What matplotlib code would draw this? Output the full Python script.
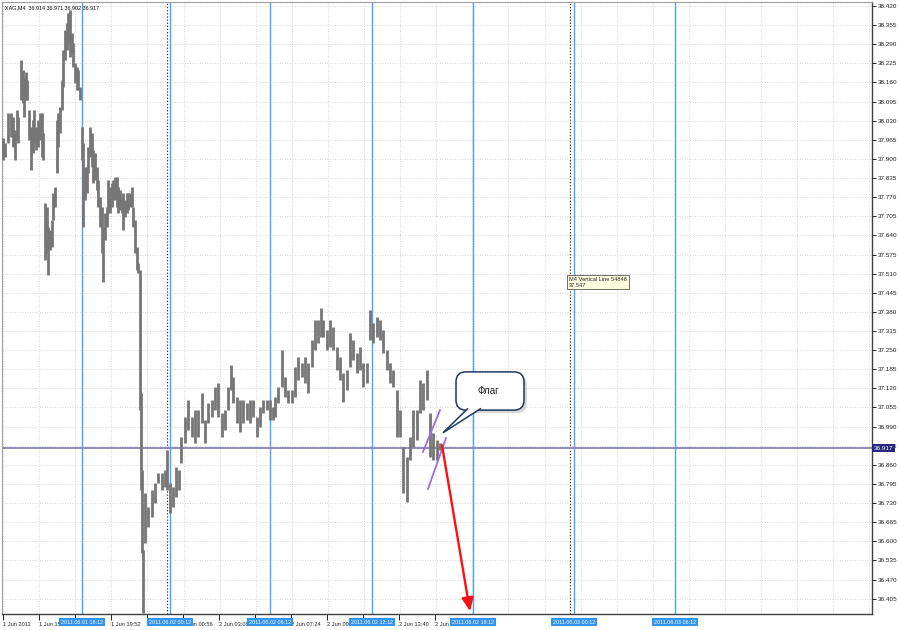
import matplotlib
matplotlib.use('Agg')
import matplotlib.pyplot as plt
from matplotlib.patches import FancyBboxPatch, Polygon
from matplotlib.transforms import blended_transform_factory
import numpy as np

plt.rcParams['font.family'] = ['Liberation Sans', 'DejaVu Sans']

# ---------------- data ----------------
symbol_header = "XAG,M4  36.914 36.971 36.902 36.917"

bar_x = [3, 5, 8, 11, 13, 15, 17, 18, 21, 23, 24, 26, 27, 29, 31, 33, 34, 36, 38, 40,
         42, 43, 45, 47, 48, 50, 52, 53, 55, 57, 58, 60, 62, 63, 65, 67, 68, 70, 72, 73,
         75, 77, 78, 80, 82, 83, 85, 87, 88, 90, 92, 93, 95, 97, 98, 100, 102, 103, 105, 107,
         108, 110, 112, 113, 115, 117, 118, 120, 122, 123, 125, 127, 128, 130, 132, 133, 135, 137, 138, 140,
         141, 142, 143, 145, 148, 152, 155, 158, 162, 165, 167, 170, 173, 176, 179, 181, 185, 188, 192, 195,
         198, 202, 205, 208, 212, 215, 218, 222, 225, 228, 231, 233, 237, 240, 243, 247, 250, 253, 257, 260,
         263, 267, 270, 273, 275, 278, 282, 285, 288, 292, 295, 298, 302, 305, 308, 312, 315, 318, 321, 323,
         327, 330, 333, 337, 340, 343, 347, 350, 353, 357, 360, 363, 367, 370, 373, 377, 380, 383, 387, 390,
         393, 397, 400, 403, 407, 410, 413, 417, 420, 423, 427, 430, 433, 437, 440]

bar_high = [37.971, 37.954, 38.056, 38.056, 38.043, 37.998, 38.066, 38.043, 38.236, 38.202,
            38.179, 38.196, 38.168, 38.066, 38.009, 38.032, 38.066, 38.009, 38.032, 38.056,
            38.056, 37.988, 37.750, 37.737, 37.669, 37.658, 37.692, 37.784, 37.805, 38.032,
            38.056, 38.077, 38.168, 38.270, 38.338, 38.362, 38.396, 38.406, 38.328, 38.294,
            38.226, 38.213, 38.202, 38.145, 38.009, 37.954, 37.873, 37.873, 37.941, 38.009,
            37.988, 37.930, 37.920, 37.873, 37.828, 37.771, 37.737, 37.669, 37.716, 37.737,
            37.828, 37.805, 37.818, 37.828, 37.839, 37.839, 37.805, 37.794, 37.771, 37.784,
            37.760, 37.784, 37.784, 37.784, 37.805, 37.737, 37.692, 37.601, 37.546, 37.522,
            37.104, 36.842, 36.570, 36.764, 36.717, 36.774, 36.798, 36.832, 36.832, 36.842,
            36.910, 36.798, 36.785, 36.853, 36.842, 36.955, 37.023, 37.080, 37.023, 37.046,
            37.046, 37.104, 37.012, 37.070, 37.080, 37.125, 37.138, 37.036, 37.046, 37.125,
            37.199, 37.159, 37.091, 37.080, 37.080, 37.070, 37.080, 37.080, 37.023, 37.057,
            37.080, 37.080, 37.080, 37.057, 37.091, 37.125, 37.250, 37.159, 37.114, 37.114,
            37.193, 37.226, 37.206, 37.226, 37.206, 37.284, 37.352, 37.352, 37.393, 37.352,
            37.318, 37.352, 37.329, 37.261, 37.226, 37.172, 37.182, 37.308, 37.284, 37.240,
            37.261, 37.206, 37.206, 37.386, 37.342, 37.363, 37.352, 37.318, 37.250, 37.206,
            37.182, 37.114, 37.046, 36.920, 36.887, 36.955, 37.046, 37.046, 37.148, 37.138,
            37.182, 37.036, 36.968, 36.944, 36.934]

bar_low = [37.896, 37.907, 37.954, 37.975, 37.941, 37.896, 37.964, 37.954, 38.100, 38.090,
           38.043, 38.100, 38.100, 37.964, 37.862, 37.920, 37.954, 37.930, 37.941, 37.964,
           37.907, 37.896, 37.556, 37.580, 37.505, 37.590, 37.601, 37.692, 37.737, 37.852,
           37.941, 37.988, 38.066, 38.145, 38.236, 38.270, 38.294, 38.247, 38.260, 38.213,
           38.158, 38.134, 38.134, 38.100, 37.896, 37.669, 37.760, 37.784, 37.852, 37.907,
           37.873, 37.818, 37.828, 37.794, 37.737, 37.669, 37.580, 37.482, 37.624, 37.669,
           37.716, 37.716, 37.737, 37.760, 37.760, 37.737, 37.716, 37.726, 37.716, 37.658,
           37.703, 37.716, 37.726, 37.737, 37.737, 37.669, 37.580, 37.522, 37.512, 37.046,
           36.774, 36.560, 36.356, 36.594, 36.649, 36.683, 36.730, 36.798, 36.774, 36.785,
           36.774, 36.696, 36.717, 36.750, 36.774, 36.866, 36.934, 36.978, 36.955, 36.934,
           36.955, 37.002, 36.934, 37.002, 37.023, 37.046, 37.023, 36.955, 36.978, 37.046,
           37.114, 37.070, 37.002, 36.972, 37.002, 37.012, 37.002, 37.023, 36.955, 36.989,
           37.036, 37.046, 37.012, 37.012, 37.023, 37.070, 37.125, 37.091, 37.070, 37.070,
           37.091, 37.148, 37.159, 37.138, 37.104, 37.193, 37.250, 37.274, 37.295, 37.295,
           37.250, 37.261, 37.250, 37.182, 37.148, 37.074, 37.114, 37.193, 37.216, 37.172,
           37.182, 37.125, 37.138, 37.284, 37.274, 37.295, 37.284, 37.240, 37.182, 37.138,
           37.125, 36.955, 36.955, 36.764, 36.734, 36.876, 36.920, 36.944, 37.036, 37.046,
           37.080, 36.887, 36.876, 36.876, 36.910]

current_price = 36.917

price_ticks = [38.420, 38.355, 38.290, 38.225, 38.160, 38.095, 38.030, 37.965, 37.900, 37.835,
               37.770, 37.705, 37.640, 37.575, 37.510, 37.445, 37.380, 37.315, 37.250, 37.185,
               37.120, 37.055, 36.990, 36.925, 36.860, 36.795, 36.730, 36.665, 36.600, 36.535,
               36.470, 36.405]

time_ticks = [3, 39, 75, 111, 147, 183, 219, 255, 291, 327, 363, 399, 435]
time_labels = ["1 Jun 2011", "1 Jun 15:36", "1 Jun 17:44", "1 Jun 19:52", "1 Jun 22:48",
               "2 Jun 00:56", "2 Jun 03:08", "2 Jun 05:16", "2 Jun 07:24", "2 Jun 09:32",
               "2 Jun 11:36", "2 Jun 13:40", "2 Jun 15:48"]

vline_x = [82, 170, 270, 372, 473, 574, 675]
vline_labels = ["2011.06.01 18:12", "2011.06.02 00:12", "2011.06.02 06:12", "2011.06.02 12:12",
                "2011.06.02 18:12", "2011.06.03 00:12", "2011.06.03 06:12"]

separator_x = [167, 570]

tooltip_pos = (569, 37.499)
tooltip_text = "M4 Vertical Line 54848\n37.547"

flag_line1_x = [423, 440]
flag_line1_y = [36.904, 37.046]
flag_line2_x = [428, 446]
flag_line2_y = [36.778, 36.951]

arrow_start = (442, 36.927)
arrow_end = (470, 36.362)

callout_text = "Флаг"
callout_box = (456, 37.046, 68, 0.130)   # x, y, width, height
callout_tail_x = [468, 443, 481]
callout_tail_y = [37.052, 36.969, 37.052]

# ---------------- figure ----------------
W, H = 900, 630
fig = plt.figure(figsize=(W / 100, H / 100), dpi=100, facecolor='white')
ax = fig.add_axes([2 / W, (H - 614) / H, 870 / W, 612 / H])
ax.set_facecolor('white')
ax.set_xlim(2, 872)
ax.set_ylim(36.3528, 38.4336)

px_y = (38.4336 - 36.3528) / 612.0  # price per pixel

# grid
for gx in np.arange(3, 872, 36.1):
    ax.axvline(gx, color='#c9c9c9', lw=0.6, ls=(0, (1, 2)), zorder=0)
for gy in price_ticks:
    ax.axhline(gy, color='#c9c9c9', lw=0.6, ls=(0, (1, 2)), zorder=0)

# separators and vertical lines
for sx in separator_x:
    ax.axvline(sx, color='#333333', lw=0.9, ls=(0, (1, 1.5)), zorder=1)
for vx in vline_x:
    ax.axvline(vx, color='#4aa2ff', lw=1.0, zorder=1)

# price bars
ax.vlines(bar_x, bar_low, bar_high, color='#767676', lw=2.0, zorder=3)

# current price line
ax.axhline(current_price, color='#8585b5', lw=1.3, zorder=2)

# flag lines
ax.plot(flag_line1_x, flag_line1_y, color='#9a6ee6', lw=1.3, zorder=4)
ax.plot(flag_line2_x, flag_line2_y, color='#9a6ee6', lw=1.3, zorder=4)

# red arrow
ax.annotate('', xy=arrow_end, xytext=arrow_start,
            arrowprops=dict(arrowstyle='-|>,head_length=0.8,head_width=0.35', color='#ff1010',
                            lw=1.7, shrinkA=0, shrinkB=0), zorder=5)

# callout
bx, by, bw, bh = callout_box
shadow = FancyBboxPatch((bx + 3, by - 3 * px_y), bw, bh,
                        boxstyle='round,pad=0,rounding_size=10', mutation_aspect=px_y,
                        fc='#bdbdbd', ec='none', alpha=0.6, zorder=5)
ax.add_patch(shadow)
box = FancyBboxPatch((bx, by), bw, bh, boxstyle='round,pad=0,rounding_size=10',
                     mutation_aspect=px_y, fc='white', ec='#1f3864', lw=1.1, zorder=6)
ax.add_patch(box)
tail = Polygon(list(zip(callout_tail_x, callout_tail_y)), closed=False,
               fc='white', ec='#1f3864', lw=1.1, zorder=7)
ax.add_patch(tail)
ax.text(bx + bw / 2 - 2, by + bh / 2, callout_text, ha='center', va='center',
        fontsize=7, color='#222222', zorder=8)

# tooltip
ax.text(tooltip_pos[0], tooltip_pos[1], tooltip_text, ha='left', va='top', fontsize=4.1,
        color='#222222', linespacing=1.2, zorder=9,
        bbox=dict(boxstyle='square,pad=0.3', fc='#ffffe1', ec='#555555', lw=0.6))

# axes styling
for side in ['left', 'top']:
    ax.spines[side].set_color('#a0a0a0')
    ax.spines[side].set_linewidth(0.8)
for side in ['right', 'bottom']:
    ax.spines[side].set_color('#404040')
    ax.spines[side].set_linewidth(1.0)

ax.yaxis.tick_right()
ax.set_yticks(price_ticks)
ax.set_yticklabels([f"{t:.3f}" for t in price_ticks])
ax.tick_params(axis='y', direction='out', length=3, width=0.7, pad=1.2,
               labelsize=4.6, colors='#222222')
ax.set_xticks(time_ticks)
ax.set_xticklabels(time_labels, ha='left')
ax.tick_params(axis='x', direction='out', length=4, width=0.7, pad=1.5,
               labelsize=4.1, colors='#222222')

# current price label
trans_y = blended_transform_factory(ax.transAxes, ax.transData)
ax.text(1.002, current_price, f"{current_price:.3f}", transform=trans_y, ha='left',
        va='center', fontsize=4.6, color='white', zorder=10, clip_on=False,
        bbox=dict(boxstyle='square,pad=0.2', fc='#28287f', ec='none'))

# vertical line labels on the time axis
trans_x = blended_transform_factory(ax.transData, ax.transAxes)
for vx, lab in zip(vline_x, vline_labels):
    ax.text(vx, -0.0135, lab, transform=trans_x, ha='center', va='center', fontsize=3.9,
            color='white', zorder=10, clip_on=False,
            bbox=dict(boxstyle='square,pad=0.3', fc='#3393f0', ec='none'))

# header
fig.text(5 / W, 1 - 8 / H, symbol_header, ha='left', va='center', fontsize=3.9, color='#111111')

fig.savefig('out.png', dpi=100, facecolor='white')
